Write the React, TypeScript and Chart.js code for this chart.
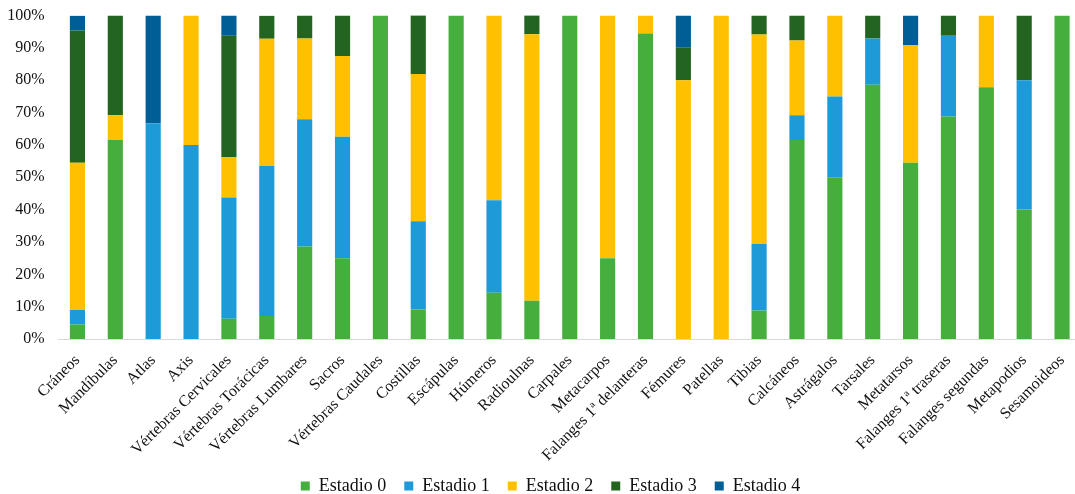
import React, { useEffect, useRef } from "react";
import { Chart, registerables } from "chart.js";

Chart.register(...registerables);

const categories = [
  "Cráneos",
  "Mandíbulas",
  "Atlas",
  "Axis",
  "Vértebras Cervicales",
  "Vértebras Torácicas",
  "Vértebras Lumbares",
  "Sacros",
  "Vértebras Caudales",
  "Costillas",
  "Escápulas",
  "Húmeros",
  "Radioulnas",
  "Carpales",
  "Metacarpos",
  "Falanges 1ª delanteras",
  "Fémures",
  "Patellas",
  "Tibias",
  "Calcáneos",
  "Astrágalos",
  "Tarsales",
  "Metatarsos",
  "Falanges 1ª traseras",
  "Falanges segundas",
  "Metapodios",
  "Sesamoideos",
];

const seriesNames = ["Estadio 0", "Estadio 1", "Estadio 2", "Estadio 3", "Estadio 4"];
const seriesColors = ["#46AE3C", "#1D9BD8", "#FFC000", "#236420", "#005E96"];

const estadio0 = [4.5, 61.5, 0, 0, 6.25, 7.1, 28.6, 25, 100, 9.1, 100, 14.3, 11.8, 100, 25, 94.4, 0, 0, 8.8, 61.5, 50, 78.6, 54.5, 68.75, 77.8, 40, 100];
const estadio1 = [4.5, 0, 66.7, 60, 37.5, 46.4, 39.3, 37.5, 0, 27.3, 0, 28.6, 0, 0, 0, 0, 0, 0, 20.6, 7.7, 25, 14.3, 0, 25, 0, 40, 0];
const estadio2 = [45.5, 7.7, 0, 40, 12.5, 39.3, 25, 25, 0, 45.5, 0, 57.1, 82.4, 0, 75, 5.6, 80, 100, 64.7, 23.1, 25, 0, 36.4, 0, 22.2, 0, 0];
const estadio3 = [40.9, 30.8, 0, 0, 37.5, 7.1, 7.1, 12.5, 0, 18.2, 0, 0, 5.9, 0, 0, 0, 10, 0, 5.9, 7.7, 0, 7.1, 0, 6.25, 0, 20, 0];
const estadio4 = [4.5, 0, 33.3, 0, 6.25, 0, 0, 0, 0, 0, 0, 0, 0, 0, 0, 0, 10, 0, 0, 0, 0, 0, 9.1, 0, 0, 0, 0];

const yTicks = [0, 10, 20, 30, 40, 50, 60, 70, 80, 90, 100];

const FONT = '"Liberation Serif", "Times New Roman", serif';

const layoutTweak = {
  id: "layoutTweak",
  afterLayout(chart: any) {
    if (chart.legend) {
      chart.legend.left += 10;
      chart.legend.right += 10;
    }
    if (chart.scales && chart.scales.x) {
      chart.scales.x.bottom += 14;
    }
  },
};

export default function App() {
  const ref = useRef<HTMLCanvasElement>(null);

  useEffect(() => {
    if (!ref.current) return;
    const seriesData = [estadio0, estadio1, estadio2, estadio3, estadio4];
    const chart = new Chart(ref.current, {
      type: "bar",
      data: {
        labels: categories,
        datasets: seriesNames.map((name, i) => ({
          label: name,
          data: seriesData[i],
          backgroundColor: seriesColors[i],
          borderWidth: 0,
          barPercentage: 0.4,
          categoryPercentage: 1,
        })),
      },
      plugins: [layoutTweak],
      options: {
        animation: false,
        responsive: true,
        maintainAspectRatio: false,
        devicePixelRatio: 1,
        layout: { padding: { left: 0, top: 15.5, right: 0, bottom: 0 } },
        plugins: {
          legend: {
            position: "bottom",
            labels: {
              boxWidth: 9,
              boxHeight: 9,
              padding: 18,
              color: "#111",
              font: { family: FONT, size: 18 },
            },
          },
          tooltip: { enabled: false },
        },
        scales: {
          x: {
            stacked: true,
            grid: { display: false, drawTicks: false },
            border: { display: true, color: "#D9D9D9", width: 1 },
            ticks: {
              autoSkip: false,
              maxRotation: 45,
              minRotation: 45,
              padding: 12,
              color: "#111",
              font: { family: FONT, size: 16 },
            },
            afterFit: (s: any) => {
              s.height = 120;
              s.paddingLeft = 0;
              s.paddingRight = 0;
            },
          },
          y: {
            stacked: true,
            min: 0,
            max: 100,
            grid: { display: false, drawTicks: false },
            border: { display: false },
            afterBuildTicks: (s: any) => {
              s.ticks = yTicks.map((v) => ({ value: v }));
            },
            ticks: {
              padding: 14,
              color: "#111",
              font: { family: FONT, size: 16 },
              callback: (v: any) => v + "%",
            },
            afterFit: (s: any) => {
              s.width = 58.5;
              s.paddingTop = 0;
              s.paddingBottom = 0;
            },
          },
        },
      },
    });
    return () => chart.destroy();
  }, []);

  return (
    <div
      style={{
        position: "fixed",
        left: 0,
        top: 0,
        width: 1075,
        height: 494,
        overflow: "hidden",
        background: "#fff",
      }}
    >
      <div style={{ position: "relative", width: 1081, height: 505 }}>
        <canvas ref={ref} />
      </div>
    </div>
  );
}
